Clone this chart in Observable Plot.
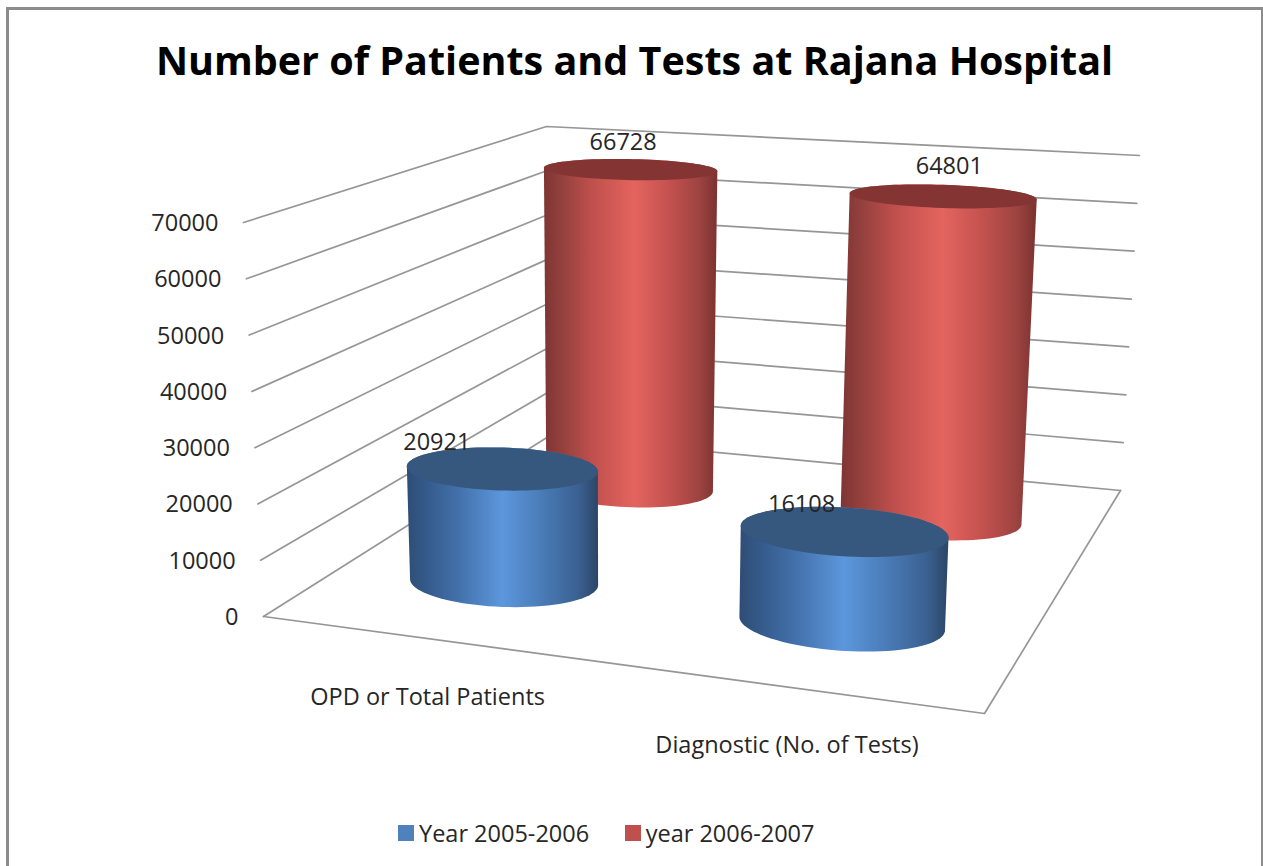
<!DOCTYPE html>
<html><head><meta charset="utf-8">
<script src="https://cdn.jsdelivr.net/npm/d3@7"></script>
<script src="https://cdn.jsdelivr.net/npm/@observablehq/plot@0.6"></script>
<style>
html,body{margin:0;padding:0;background:#fff;overflow:hidden}
#frame{position:absolute;left:6px;top:7px;width:1252px;height:900px;border:3px solid #8c8c8c;box-sizing:content-box}
#title{position:absolute;left:0;width:1269px;top:33px;text-align:center;font:700 39.5px "Open Sans",sans-serif;color:#000;white-space:nowrap}
#chart{position:absolute;left:0;top:100px}
#legend{position:absolute;left:398px;top:816px;display:flex;gap:12px;color:#262626}
#legend>*{margin:0}
#legend svg{margin-right:5px !important}
</style></head><body>
<div id="frame"></div>
<div id="title">Number of Patients and Tests at Rajana Hospital</div>
<div id="chart"></div>
<div id="legend"></div>
<script>
const categories = ["OPD or Total Patients", "Diagnostic (No. of Tests)"];
const series = ["Year 2005-2006", "year 2006-2007"];
const year2005 = [20921, 16108];
const year2006 = [66728, 64801];
const valueTicks = [0, 10000, 20000, 30000, 40000, 50000, 60000, 70000];

// Appearance and camera calibration of the 3-D box (not data)
const seriesColors = ["#4f81bd", "#c0504d"];
const topColors = ["#36587f", "#843433"];
const floorQuad = [[263,616],[984,713],[1120,490],[548,436]]; // front-left, front-right, back-right, back-left
const ceilQuad  = [[243,222],[1002,274],[1139,155],[546,126]];
const radiusU = 0.14, radiusV = 0.106;
const labelNudge = [[-65,-26],[-42,-27],[-7,-27],[7,-30]];

const zScale = Plot.scale({y:{domain:[0,70000], range:[0,1]}});
const uScale = Plot.scale({x:{type:"point", domain:categories, range:[0,1], padding:0.5}});
const vScale = Plot.scale({x:{type:"point", domain:series, range:[0,1], padding:0.5}});

function project(u, v, z) {
  const q = floorQuad.map((p,i)=>[p[0]+(ceilQuad[i][0]-p[0])*z, p[1]+(ceilQuad[i][1]-p[1])*z]);
  const [[x0,y0],[x1,y1],[x2,y2],[x3,y3]] = q;
  const dx1=x1-x2, dx2=x3-x2, sx=x0-x1+x2-x3, dy1=y1-y2, dy2=y3-y2, sy=y0-y1+y2-y3;
  const den=dx1*dy2-dx2*dy1, g=(sx*dy2-dx2*sy)/den, h=(dx1*sy-sx*dy1)/den;
  const a=x1-x0+g*x1, b=x3-x0+h*x3, d=y1-y0+g*y1, e=y3-y0+h*y3, w=g*u+h*v+1;
  return [(a*u+b*v+x0)/w, (d*u+e*v+y0)/w];
}

// Grid lines
const grid = [];
valueTicks.forEach(t=>{
  const z=zScale.apply(t);
  [[0,0],[0,1],[1,1]].forEach(([u,v])=>{const [x,y]=project(u,v,z);grid.push({k:t,x,y});});
});
[[0,0],[1,0],[1,1]].forEach(([u,v])=>{const [x,y]=project(u,v,0);grid.push({k:"floor",x,y});});

// Columns, back series first
const rows = [];
[year2006, year2005].forEach((vals,si)=>{
  const s = series[1-si];
  vals.forEach((val,ci)=>rows.push({cat:categories[ci],s,si:1-si,ci,val}));
});
const angles = d3.range(0,360,4).map(a=>a*Math.PI/180);
const circle = (r,z)=>angles.map(a=>project(uScale.apply(r.cat)+radiusU*Math.cos(a), vScale.apply(r.s)+radiusV*Math.sin(a), z));
const sides=[], tops=[], labels=[];
rows.forEach((r,i)=>{
  const z=zScale.apply(r.val);
  const hull=d3.polygonHull([...circle(r,0),...circle(r,z)]);
  hull.forEach(([x,y])=>sides.push({i,si:r.si,x,y}));
  circle(r,z).forEach(([x,y])=>tops.push({i,si:r.si,x,y}));
  const [lx,ly]=project(uScale.apply(r.cat),vScale.apply(r.s),z);
  const nudge=labelNudge[r.si*2+r.ci];
  labels.push({text:String(r.val),x:lx+nudge[0],y:ly+nudge[1]});
});

const tickLabels = valueTicks.map(t=>{const [x,y]=project(0,0,zScale.apply(t));return {text:String(t),x:x-25,y:y+1};});
const catLabels = categories.map(c=>{const [x,y]=project(uScale.apply(c),0,0);return {text:c,x:x+1,y:y+59};});

function gradients(){
  const defs=d3.create("svg:defs");
  const stops=[
    [["0","#2f4d75"],[".1","#345a8a"],[".28","#4472ad"],[".5","#5c97dc"],[".7","#4a7cb8"],[".9","#3a6090"],["1","#2c4565"]],
    [["0","#7f3533"],[".1","#92403d"],[".28","#c0504d"],[".52","#e4645f"],[".72","#c4524f"],[".9","#9c4340"],["1","#7a3230"]]
  ];
  stops.forEach((st,i)=>{
    const g=defs.append("linearGradient").attr("id","side"+i).attr("x1",0).attr("x2",1).attr("y1",0).attr("y2",0);
    st.forEach(([o,c])=>g.append("stop").attr("offset",o).attr("stop-color",c));
  });
  return defs.node();
}

const font="'Open Sans',sans-serif";
const textStyle={fontSize:23.5,fill:"#262626",fontFamily:font,stroke:null};
const chart = Plot.plot({
  width:1263, height:700, margin:0,
  style:{background:"transparent",overflow:"visible"},
  x:{type:"linear",domain:[0,1263],range:[0,1263],axis:null},
  y:{type:"linear",domain:[100,800],range:[0,700],axis:null},
  marks:[
    gradients,
    Plot.line(grid,{x:"x",y:"y",z:"k",stroke:"#969696",strokeWidth:1.7,curve:"linear"}),
    ...d3.range(rows.length).map(i=>[
      Plot.line(sides.filter(d=>d.i===i),{x:"x",y:"y",stroke:null,fill:"url(#side"+rows[i].si+")"}),
      Plot.line(tops.filter(d=>d.i===i),{x:"x",y:"y",stroke:null,fill:topColors[rows[i].si]})
    ]).flat(),
    Plot.text(tickLabels,{x:"x",y:"y",text:"text",textAnchor:"end",...textStyle}),
    Plot.text(labels,{x:"x",y:"y",text:"text",...textStyle}),
    Plot.text(catLabels,{x:"x",y:"y",text:"text",...textStyle})
  ]
});
document.getElementById("chart").append(chart);
document.getElementById("legend").append(...series.map((s,i)=>{
  return Plot.legend({color:{type:"categorical",domain:[s],range:[seriesColors[i]]},swatchSize:16,style:{fontSize:"23.5px",fontFamily:font,margin:0,color:"#262626"}});
}));
</script>
</body></html>
